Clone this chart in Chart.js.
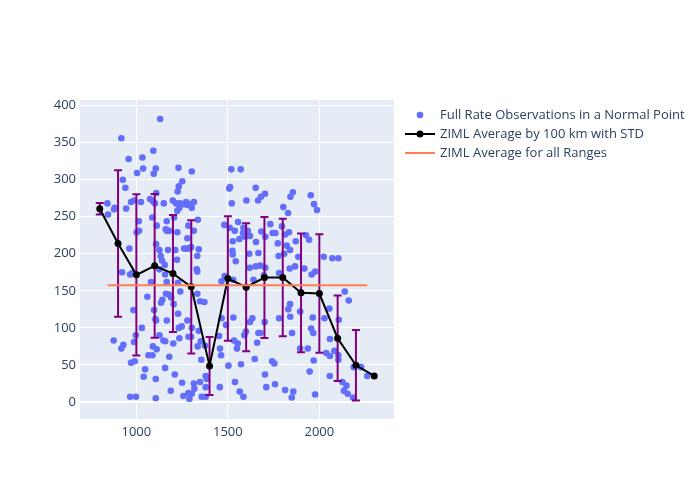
<!DOCTYPE html>
<html>
<head>
<meta charset="utf-8">
<script src="https://cdn.jsdelivr.net/npm/chart.js@4.4.1/dist/chart.umd.min.js"></script>
<style>
  body { margin:0; background:#fff; }
  #wrap { width:700px; height:500px; }
</style>
</head>
<body>
<div id="wrap"><canvas id="chart" width="700" height="500"></canvas></div>
<script>
// ===== DATA =====
const obsX = [
  1130, 918, 958, 1033, 1093, 1004, 1037, 1106, 1095, 1230, 1251, 1232, 1226, 926, 940, 1109,
  842, 882, 878, 845, 944, 971, 987, 1025, 1075, 1090, 1102, 1150,
  1199, 1217, 1239, 1261, 1272, 1286, 1235, 1224, 1281,
  1087, 1013, 1015, 1002, 1111, 1166, 1206, 1161, 1179, 1166, 1224, 1284, 1279,
  962, 1108, 1126, 1173, 1213, 1261, 1272, 1284, 1299,
  1133, 1140, 1155, 1126, 1157, 1222, 922, 966, 979, 1080, 1166, 1228, 1240, 1060,
  1135, 1142, 1162, 1177, 1190, 1204, 984, 1097, 1104, 1108, 1166, 1228, 1279,
  1030, 1232, 1248, 876, 929, 918, 997, 987, 1126, 1148, 1158, 1090, 1111, 1202, 1235,
  1066, 1088, 1180, 971, 991, 1048, 1040, 1106, 1157, 1210, 1250, 1188, 1257, 1290, 1284,
  966, 998, 1106,
  1303, 1519, 1570, 1512, 1508, 1652, 1703, 1681, 1665, 1601, 1521, 1315, 1303,
  1336, 1314, 1341, 1481, 1510, 1556, 1538, 1527, 1563, 1585, 1583, 1609, 1594, 1621,
  1654, 1683, 1705, 1732, 1745, 1760, 1773, 1525, 1527, 1617, 1667,
  1333, 1330, 1333, 1543, 1620, 1652, 1677, 1705, 1465, 1483, 1529, 1640, 1697,
  1333, 1348, 1372, 1303, 1285, 1299, 1341, 1352, 1375, 1335, 1355, 1452, 1457, 1463,
  1466, 1490, 1530, 1599, 1590, 1621, 1634, 1660, 1667, 1677, 1701, 1742, 1754,
  1534, 1554, 1550, 1572, 1503, 1647, 1703, 1710, 1758, 1539, 1565, 1585, 1456,
  1379, 1385, 1379, 1348, 1314, 1317, 1303, 1357, 1379,
  1855, 1842, 1953, 1971, 1987, 1803, 1829, 1796, 1834, 1813, 1822, 1840, 1808, 1777,
  1871, 1927, 1944, 1885, 2024, 2071, 2104,
  1838, 1867, 1918, 1958, 1977, 1780, 2139, 2161, 1840, 1830, 1841, 1780, 1895, 1964,
  2055, 2028, 2106, 1851, 1955, 1967, 2058, 1895, 1937, 1969, 1947,
  2038, 2058, 2082, 2104, 2104, 2057, 2126, 2148, 2134, 2155, 2184, 2188, 2228, 2262,
  1977, 1813, 1858, 1849
];
const obsY = [
  382, 356, 328, 330, 339, 309, 315, 315, 308, 316, 298, 291, 284, 300, 289, 282,
  268, 262, 260, 253, 261, 270, 272, 270, 274, 271, 268, 268,
  272, 268, 268, 267, 270, 267, 262, 258, 266,
  249, 244, 231, 229, 238, 244, 249, 233, 231, 231, 229, 238, 221,
  207, 213, 205, 205, 205, 207, 207, 207, 209,
  197, 191, 185, 179, 172, 192, 175, 172, 174, 162, 162, 161, 149, 142,
  134, 138, 146, 145, 141, 132, 124, 124, 112, 110, 110, 119, 110,
  100, 100, 102, 83, 77, 72, 90, 81, 90, 83, 82, 75, 71, 79, 86,
  63, 63, 61, 53, 55, 44, 34, 31, 46, 37, 26, 15, 8, 4, 12,
  7, 7, 5,
  311, 314, 314, 290, 288, 289, 281, 277, 272, 272, 268, 270, 262,
  246, 231, 206, 239, 235, 243, 231, 217, 220, 235, 228, 231, 223, 224,
  216, 230, 223, 240, 228, 228, 214, 204, 199, 200, 201,
  197, 179, 176, 190, 181, 183, 184, 181, 163, 170, 165, 165, 171,
  146, 136, 135, 100, 88, 88, 96, 82, 76, 75, 57, 89, 72, 63,
  113, 104, 114, 95, 90, 108, 113, 80, 93, 93, 108, 55, 52,
  83, 79, 72, 51, 49, 58, 37, 20, 24, 27, 14, 7, 20,
  35, 31, 20, 27, 25, 18, 11, 7, 7,
  283, 277, 279, 267, 259, 263, 255, 237, 229, 226, 211, 205, 200, 197,
  217, 225, 219, 196, 196, 194, 194,
  180, 183, 180, 172, 176, 174, 149, 137, 132, 125, 115, 113, 122, 114,
  126, 113, 111, 93, 99, 93, 85, 72, 72, 56, 41,
  66, 62, 69, 63, 57, 35, 27, 22, 15, 11, 6, 47, 47, 35,
  10, 16, 14, 6
];
const binX    = [800, 900, 1000, 1100, 1200, 1300, 1400, 1500, 1600, 1700, 1800, 1900, 2000, 2100, 2200, 2300];
const binMean = [260.8, 213.9, 171.6, 183.8, 173.4, 155.4, 48.6, 166.6, 154.9, 168, 168, 147.3, 146.4, 86, 49.5, 35.1];
const binStd  = [7.7, 98.8, 108.8, 97, 79, 90, 39.2, 84, 86.5, 81.8, 79.3, 80.2, 80.1, 57.8, 47.5, 0];
const allRangeMean = 157.5;
const xTicks = [1000, 1500, 2000];
const yTicks = [0, 50, 100, 150, 200, 250, 300, 350, 400];

const legendLabels = [
  'Full Rate Observations in a Normal Point',
  'ZIML Average by 100 km with STD',
  'ZIML Average for all Ranges'
];

// ===== STYLE =====
const BLUE = '#636efa', PURPLE = '#800080', CORAL = '#ff7f50', INK = '#2a3f5f';
const FONT = '"Open Sans", "DejaVu Sans", sans-serif';

const obsPoints = obsX.map((x, i) => ({ x, y: obsY[i] }));
const binPoints = binX.map((x, i) => ({ x, y: binMean[i] }));
const xLo = Math.min(...obsX), xHi = Math.max(...obsX);
const avgPoints = [{ x: xLo, y: allRangeMean }, { x: xHi, y: allRangeMean }];

// plot background
const bgPlugin = {
  id: 'plotBg',
  beforeDraw(chart) {
    const { ctx, chartArea: a } = chart;
    ctx.save();
    ctx.fillStyle = '#e5ecf6';
    ctx.fillRect(a.left, a.top, a.right - a.left, a.bottom - a.top);
    ctx.restore();
  }
};

// std error bars, drawn right after the scatter layer
const errPlugin = {
  id: 'errBars',
  afterDatasetDraw(chart, args) {
    if (args.index !== 0) return;
    const { ctx, scales: { x, y } } = chart;
    ctx.save();
    ctx.strokeStyle = PURPLE;
    ctx.lineWidth = 2;
    binX.forEach((bx, i) => {
      if (!binStd[i]) return;
      const px = x.getPixelForValue(bx);
      const top = y.getPixelForValue(binMean[i] + binStd[i]);
      const bot = y.getPixelForValue(binMean[i] - binStd[i]);
      ctx.beginPath();
      ctx.moveTo(px, top); ctx.lineTo(px, bot);
      ctx.moveTo(px - 4, top); ctx.lineTo(px + 4, top);
      ctx.moveTo(px - 4, bot); ctx.lineTo(px + 4, bot);
      ctx.stroke();
    });
    ctx.restore();
  }
};

// legend on the right
const legendPlugin = {
  id: 'sideLegend',
  afterDraw(chart) {
    const ctx = chart.ctx;
    const x0 = 405, xt = 440, rows = [115, 134, 153];
    ctx.save();
    ctx.font = '13px ' + FONT;
    ctx.fillStyle = INK;
    ctx.textBaseline = 'middle';
    legendLabels.forEach((t, i) => ctx.fillText(t, xt, rows[i]));
    // scatter symbol
    ctx.fillStyle = BLUE;
    ctx.beginPath(); ctx.arc(x0 + 15, rows[0], 3.3, 0, Math.PI * 2); ctx.fill();
    // line + marker
    ctx.strokeStyle = '#000'; ctx.lineWidth = 2;
    ctx.beginPath(); ctx.moveTo(x0, rows[1]); ctx.lineTo(x0 + 30, rows[1]); ctx.stroke();
    ctx.fillStyle = '#000';
    ctx.beginPath(); ctx.arc(x0 + 15, rows[1], 3.5, 0, Math.PI * 2); ctx.fill();
    // average line
    ctx.strokeStyle = CORAL;
    ctx.beginPath(); ctx.moveTo(x0, rows[2]); ctx.lineTo(x0 + 30, rows[2]); ctx.stroke();
    ctx.restore();
  }
};

new Chart(document.getElementById('chart'), {
  type: 'scatter',
  data: {
    datasets: [
      { label: legendLabels[0], data: obsPoints, backgroundColor: BLUE, borderWidth: 0,
        pointRadius: 3.3, order: 3 },
      { label: legendLabels[1], data: binPoints, showLine: true, borderColor: '#000', borderWidth: 2,
        backgroundColor: '#000', pointRadius: 3.5, pointBorderWidth: 0, order: 1 },
      { label: legendLabels[2], data: avgPoints, showLine: true, borderColor: CORAL, borderWidth: 2,
        pointRadius: 0, order: 0 }
    ]
  },
  options: {
    responsive: false,
    animation: false,
    layout: { padding: { left: 0, top: 100, right: 306, bottom: 0 } },
    plugins: { legend: { display: false }, tooltip: { enabled: false } },
    scales: {
      x: {
        type: 'linear', min: 692, max: 2408,
        afterBuildTicks: s => { s.ticks = xTicks.map(v => ({ value: v })); },
        afterFit: s => { s.height = 81; },
        grid: { color: '#fff', lineWidth: 1, drawTicks: false },
        border: { display: false },
        ticks: { color: INK, font: { family: FONT, size: 13 }, padding: 5, maxRotation: 0,
                 callback: v => String(v) }
      },
      y: {
        type: 'linear', min: -23, max: 407.6,
        afterBuildTicks: s => { s.ticks = yTicks.map(v => ({ value: v })); },
        afterFit: s => { s.width = 80; },
        grid: { color: '#fff', lineWidth: c => (c.tick && c.tick.value === 0 ? 2 : 1), drawTicks: false },
        border: { display: false },
        ticks: { color: INK, font: { family: FONT, size: 13 }, padding: 4,
                 callback: v => String(v) }
      }
    }
  },
  plugins: [bgPlugin, errPlugin, legendPlugin]
});
</script>
</body>
</html>
